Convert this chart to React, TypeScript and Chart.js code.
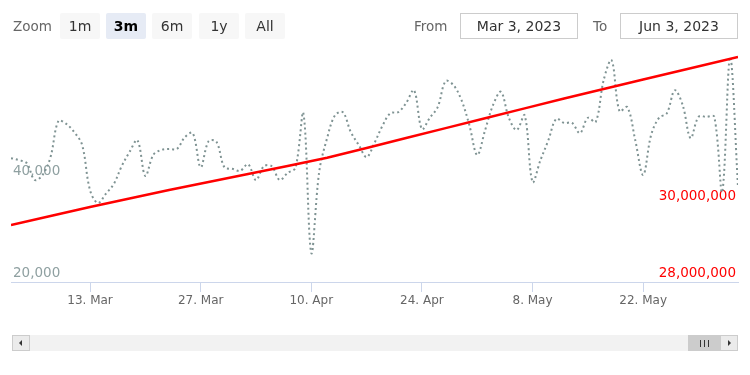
import React, { useEffect, useRef } from "react";
import { Chart, registerables } from "chart.js";

Chart.register(...registerables);

// ---- data ----
const zoomButtons = ["1m", "3m", "6m", "1y", "All"];
const selectedZoom = "3m";
const fromLabel = "Mar 3, 2023";
const toLabel = "Jun 3, 2023";

// x positions are day offsets from Mar 3, 2023
const tickDays = [10, 24, 38, 52, 66, 80];
const tickLabels = ["13. Mar", "27. Mar", "10. Apr", "24. Apr", "8. May", "22. May"];

// daily values (left axis), Mar 3 .. Jun 3
const grayValues = [
  44300, 43900, 43300, 40000, 41000, 44500, 51600, 51000, 49400, 46900,
  38000, 35500, 37300, 39200, 42700, 45500, 47800, 40800, 44900, 45900,
  46100, 46100, 48400, 49200, 42500, 47600, 47500, 42500, 42200, 41800,
  43100, 40000, 42700, 42700, 40000, 41400, 42400, 53100, 25700, 41600,
  48200, 52700, 53300, 49400, 46900, 44500, 47300, 50600, 53100, 53300,
  55100, 57600, 50000, 52200, 54300, 59400, 58600, 55700, 50800, 44900,
  49800, 54700, 57300, 52200, 49800, 52700, 39600, 43900, 47800, 52000,
  51200, 51200, 49200, 52200, 51400, 59600, 63500, 53500, 54300, 47800,
  41000, 48800, 52200, 53100, 57600, 54700, 48200, 52400, 52400, 52400,
  37700, 64100, 38600,
];

// right-axis series
const redDays = [0, 10, 20, 30, 40, 50, 60, 70, 80, 92];
const redValues = [
  29480000, 29948000, 30390000, 30805000, 31226000, 31740000, 32255000,
  32764000, 33260000, 33844000,
];

const leftTicks = [20000, 40000];
const rightTicks = [28000000, 30000000];

const FONT = "'DejaVu Sans', sans-serif";

function ChartCanvas() {
  const ref = useRef<HTMLCanvasElement | null>(null);
  useEffect(() => {
    if (!ref.current) return;
    const chart = new Chart(ref.current, {
      type: "line",
      data: {
        datasets: [
          {
            label: "Trend",
            data: redDays.map((d, i) => ({ x: d, y: redValues[i] })),
            yAxisID: "y1",
            borderColor: "#ff0000",
            borderWidth: 2.5,
            pointRadius: 0,
            tension: 0.1,
            order: 0,
          },
          {
            label: "Daily",
            data: grayValues.map((v, i) => ({ x: i, y: v })),
            yAxisID: "y",
            borderColor: "#7f9393",
            borderWidth: 2,
            borderDash: [2, 3],
            pointRadius: 0,
            tension: 0.35,
            order: 1,
          },
        ],
      },
      options: {
        animation: false,
        responsive: false,
        events: [],
        layout: { padding: { left: 11, right: 12, top: 50, bottom: 63 } },
        plugins: { legend: { display: false }, tooltip: { enabled: false } },
        scales: {
          x: {
            type: "linear",
            min: 0,
            max: 92,
            afterBuildTicks: (s: any) => {
              s.ticks = tickDays.map((v) => ({ value: v }));
            },
            afterFit: (s: any) => {
              s.height = 30;
            },
            ticks: {
              callback: (_v: any, i: number) => tickLabels[i],
              color: "#666666",
              font: { family: FONT, size: 12 },
              padding: 2,
              maxRotation: 0,
              autoSkip: false,
            },
            grid: { drawOnChartArea: false, drawTicks: true, tickLength: 10, color: "#ccd6eb" },
            border: { color: "#ccd6eb" },
          },
          y: {
            position: "left",
            min: 20000,
            max: 65500,
            afterBuildTicks: (s: any) => {
              s.ticks = leftTicks.map((v) => ({ value: v }));
            },
            afterFit: (s: any) => {
              s.width = 0;
            },
            ticks: {
              mirror: true,
              padding: 2,
              labelOffset: -9,
              color: "#8fa0a1",
              font: { family: FONT, size: 13.5 },
              callback: (v: any) => Number(v).toLocaleString("en-US"),
            },
            grid: { display: false },
            border: { display: false },
          },
          y1: {
            position: "right",
            min: 28000000,
            max: 34026000,
            afterBuildTicks: (s: any) => {
              s.ticks = rightTicks.map((v) => ({ value: v }));
            },
            afterFit: (s: any) => {
              s.width = 0;
            },
            ticks: {
              mirror: true,
              padding: -2,
              labelOffset: -9,
              color: "#ff0000",
              font: { family: FONT, size: 13.5 },
              callback: (v: any) => Number(v).toLocaleString("en-US"),
            },
            grid: { display: false },
            border: { display: false },
          },
        },
      },
    } as any);
    return () => chart.destroy();
  }, []);
  return (
    <canvas
      ref={ref}
      width={750}
      height={375}
      style={{ position: "absolute", left: 0, top: 0, width: 750, height: 375 }}
    />
  );
}

const btnLeft = [60, 106, 152, 199, 245];

export default function App() {
  const label: React.CSSProperties = {
    position: "absolute",
    top: 13,
    height: 26,
    lineHeight: "26px",
    fontFamily: FONT,
    fontSize: 13.5,
    color: "#666666",
  };
  const box: React.CSSProperties = {
    position: "absolute",
    top: 13,
    width: 116,
    height: 24,
    lineHeight: "24px",
    border: "1px solid #cccccc",
    textAlign: "center",
    fontFamily: FONT,
    fontSize: 14,
    color: "#333333",
    background: "#ffffff",
  };
  return (
    <div
      style={{
        position: "fixed",
        left: 0,
        top: 0,
        width: 750,
        height: 375,
        background: "#ffffff",
        overflow: "hidden",
      }}
    >
      <ChartCanvas />
      <div style={{ ...label, left: 13 }}>Zoom</div>
      {zoomButtons.map((b, i) => (
        <div
          key={b}
          style={{
            position: "absolute",
            left: btnLeft[i],
            top: 13,
            width: 40,
            height: 26,
            lineHeight: "26px",
            borderRadius: 2,
            textAlign: "center",
            fontFamily: FONT,
            fontSize: 14,
            background: b === selectedZoom ? "#e6ebf5" : "#f7f7f7",
            color: b === selectedZoom ? "#000000" : "#333333",
            fontWeight: b === selectedZoom ? "bold" : "normal",
          }}
        >
          {b}
        </div>
      ))}
      <div style={{ ...label, left: 414 }}>From</div>
      <div style={{ ...box, left: 460 }}>{fromLabel}</div>
      <div style={{ ...label, left: 593 }}>To</div>
      <div style={{ ...box, left: 620 }}>{toLabel}</div>

      {/* scrollbar */}
      <div
        style={{
          position: "absolute",
          left: 12,
          top: 335,
          width: 726,
          height: 16,
          background: "#f2f2f2",
        }}
      />
      <div
        style={{
          position: "absolute",
          left: 12,
          top: 335,
          width: 16,
          height: 14,
          background: "#ebebeb",
          border: "1px solid #cccccc",
        }}
      >
        <div
          style={{
            position: "absolute",
            left: 6,
            top: 4,
            width: 0,
            height: 0,
            borderTop: "3px solid transparent",
            borderBottom: "3px solid transparent",
            borderRight: "3px solid #333333",
          }}
        />
      </div>
      <div
        style={{
          position: "absolute",
          left: 688,
          top: 335,
          width: 33,
          height: 16,
          background: "#cccccc",
        }}
      >
        {[0, 1, 2].map((k) => (
          <div
            key={k}
            style={{
              position: "absolute",
              left: 12 + k * 4,
              top: 5,
              width: 1,
              height: 7,
              background: "#333333",
            }}
          />
        ))}
      </div>
      <div
        style={{
          position: "absolute",
          left: 720,
          top: 335,
          width: 16,
          height: 14,
          background: "#ebebeb",
          border: "1px solid #cccccc",
        }}
      >
        <div
          style={{
            position: "absolute",
            left: 7,
            top: 4,
            width: 0,
            height: 0,
            borderTop: "3px solid transparent",
            borderBottom: "3px solid transparent",
            borderLeft: "3px solid #333333",
          }}
        />
      </div>
    </div>
  );
}
